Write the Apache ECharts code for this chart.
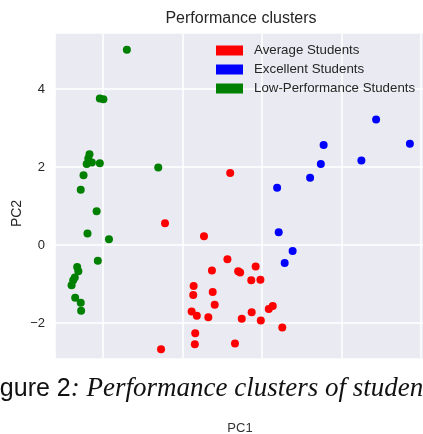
<!DOCTYPE html>
<html>
<head>
<meta charset="utf-8">
<script src="https://cdn.jsdelivr.net/npm/echarts@6/dist/echarts.min.js"></script>
<style>
  html, body { margin: 0; padding: 0; background: #ffffff; }
  #chart { width: 423px; height: 434px; }
</style>
</head>
<body>
<div id="chart"></div>
<script>
// PCA scores of each student cluster, as [PC1, PC2]
const averageStudents = [
  [-0.80, 1.85], [-2.44, 0.56], [-1.46, 0.23], [-0.87, -0.36], [-1.26, -0.65],
  [-0.60, -0.67], [-0.55, -0.70], [-0.16, -0.55], [-0.27, -0.90], [-0.04, -0.89],
  [-1.72, -1.05], [-1.73, -1.28], [-1.24, -1.20], [-1.19, -1.53], [-1.77, -1.70],
  [-1.64, -1.81], [-1.35, -1.85], [-0.51, -1.89], [-0.26, -1.72], [-0.03, -1.93],
  [0.17, -1.64], [0.27, -1.56], [0.51, -2.11], [-1.68, -2.26], [-1.69, -2.54],
  [-0.68, -2.52], [-2.54, -2.67]
];
const excellentStudents = [
  [2.87, 3.22], [3.72, 2.60], [1.55, 2.57], [1.48, 2.08], [2.50, 2.17],
  [1.21, 1.73], [0.38, 1.47], [0.42, 0.33], [0.77, -0.15], [0.57, -0.46]
];
const lowPerformanceStudents = [
  [-3.40, 5.01], [-4.08, 3.76], [-3.99, 3.74], [-4.34, 2.33], [-4.37, 2.22],
  [-4.41, 2.08], [-4.28, 2.12], [-4.08, 2.10], [-2.61, 1.99], [-4.49, 1.79],
  [-4.56, 1.42], [-4.16, 0.87], [-4.39, 0.30], [-3.85, 0.15], [-4.13, -0.40],
  [-4.65, -0.56], [-4.62, -0.67], [-4.71, -0.83], [-4.75, -0.90], [-4.79, -1.03],
  [-4.70, -1.35], [-4.56, -1.48], [-4.55, -1.68]
];
const clusterNames = ['Average Students', 'Excellent Students', 'Low-Performance Students'];
const clusterColors = ['#ff0000', '#0000ff', '#008000'];
const clusterData = [averageStudents, excellentStudents, lowPerformanceStudents];

const textDark = '#262626';
const chart = echarts.init(document.getElementById('chart'), null, { renderer: 'canvas' });

const minusFmt = v => (v < 0 ? '\u2212' + Math.abs(v) : String(v));

chart.setOption({
  backgroundColor: '#ffffff',
  animation: false,
  title: {
    text: 'Performance clusters',
    left: 241,
    top: 11,
    padding: 0,
    textAlign: 'center',
    textStyle: { fontFamily: 'Liberation Sans', fontSize: 16, fontWeight: 'normal', color: textDark }
  },
  legend: {
    orient: 'vertical',
    left: 216,
    top: 44,
    padding: 0,
    icon: 'rect',
    itemWidth: 27,
    itemHeight: 10,
    itemGap: 6,
    textStyle: { fontFamily: 'Liberation Sans', fontSize: 13.3, color: textDark, lineHeight: 13, padding: [0, 0, 0, 6] },
    data: clusterNames
  },
  grid: {
    left: 55,
    top: 33,
    width: 375,
    height: 326,
    outerBoundsMode: 'none',
    containLabel: false,
    show: true,
    backgroundColor: '#eaeaf2',
    borderWidth: 0
  },
  xAxis: {
    type: 'value',
    min: -5.2075,
    max: 4.226,
    splitNumber: 5,
    axisLine: { show: false },
    axisTick: { show: false },
    axisLabel: { show: false },
    splitLine: { show: true, lineStyle: { color: '#ffffff', width: 1.5 } }
  },
  yAxis: {
    type: 'value',
    min: -2.92,
    max: 5.44,
    splitNumber: 5,
    axisLine: { show: false },
    axisTick: { show: false },
    axisLabel: {
      fontFamily: 'Liberation Sans', fontSize: 13, color: textDark, margin: 10,
      showMinLabel: false, showMaxLabel: false, formatter: minusFmt
    },
    splitLine: { show: true, lineStyle: { color: '#ffffff', width: 1.5 } }
  },
  graphic: [
    {
      type: 'text',
      x: 17,
      y: 213.5,
      rotation: Math.PI / 2,
      style: {
        text: 'PC2', fontFamily: 'Liberation Sans', fontSize: 14, fill: textDark,
        align: 'center', verticalAlign: 'middle'
      }
    },
    {
      type: 'text',
      x: -21,
      y: 389,
      style: {
        text: '{a|Figure 2}{b|: Performance clusters of students}',
        verticalAlign: 'middle',
        rich: {
          a: { fontFamily: 'Liberation Sans', fontSize: 25, fill: '#111111' },
          b: { fontFamily: 'Liberation Serif', fontStyle: 'italic', fontSize: 27, fill: '#111111' }
        }
      }
    },
    {
      type: 'text',
      x: 240,
      y: 428,
      style: {
        text: 'PC1', fontFamily: 'Liberation Sans', fontSize: 13, fill: '#333333',
        align: 'center', verticalAlign: 'middle'
      }
    }
  ],
  series: clusterNames.map((name, i) => ({
    name,
    type: 'scatter',
    symbol: 'circle',
    symbolSize: 8,
    itemStyle: { color: clusterColors[i], opacity: 1 },
    data: clusterData[i]
  }))
});
</script>
</body>
</html>
